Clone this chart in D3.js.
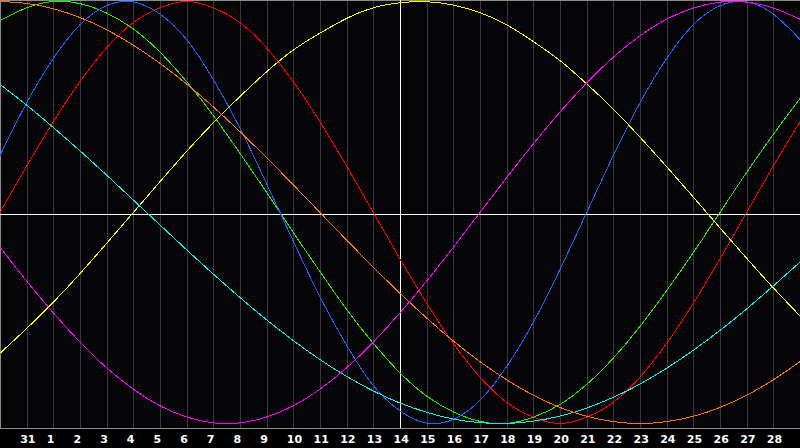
<!DOCTYPE html>
<html>
<head>
<meta charset="utf-8">
<script src="https://cdn.jsdelivr.net/npm/d3@7"></script>
<style>
  html, body { margin: 0; padding: 0; background: #000; }
  svg { display: block; }
</style>
</head>
<body>
<div id="chart"></div>
<script>
// day labels under the gridlines (day index 1..29)
const dayLabels = ["31", "1", "2", "3", "4", "5", "6", "7", "8", "9", "10", "11", "12", "13",
  "14", "15", "16", "17", "18", "19", "20", "21", "22", "23", "24", "25", "26", "27", "28"]
const todayIndex = 15

// curve values read at each day index 0..30
const red = [0, 0.22, 0.43, 0.62, 0.78, 0.90, 0.97, 1.00, 0.97, 0.90, 0.78, 0.62, 0.43, 0.22, 0,
  -0.22, -0.43, -0.62, -0.78, -0.90, -0.97, -1.00, -0.97, -0.90, -0.78, -0.62, -0.43, -0.22, 0, 0.22, 0.43]
const green = [0.91, 0.97, 1.00, 0.99, 0.945, 0.87, 0.76, 0.62, 0.46, 0.28, 0.095, -0.095, -0.28, -0.46,
  -0.62, -0.76, -0.87, -0.945, -0.99, -1.00, -0.97, -0.91, -0.815, -0.69, -0.54, -0.37, -0.19, 0, 0.19, 0.37, 0.54]
const blue = [0.27, 0.52, 0.73, 0.89, 0.98, 0.998, 0.94, 0.82, 0.63, 0.40, 0.136, -0.136, -0.40, -0.63,
  -0.82, -0.94, -0.998, -0.98, -0.89, -0.73, -0.52, -0.27, 0, 0.27, 0.52, 0.73, 0.89, 0.98, 0.998, 0.94, 0.82]
const yellow = [-0.667, -0.55, -0.425, -0.29, -0.146, 0, 0.146, 0.29, 0.425, 0.55, 0.667, 0.77, 0.85, 0.92,
  0.97, 0.994, 0.999, 0.983, 0.947, 0.89, 0.81, 0.72, 0.61, 0.49, 0.357, 0.217, 0.073, -0.073, -0.217, -0.357, -0.49]
const cyan = [0.607, 0.509, 0.403, 0.292, 0.177, 0.059, -0.059, -0.177, -0.292, -0.403, -0.509, -0.607, -0.697,
  -0.777, -0.846, -0.903, -0.947, -0.979, -0.996, -1.00, -0.989, -0.965, -0.927, -0.876, -0.813, -0.738,
  -0.653, -0.559, -0.457, -0.348, -0.235]
const magenta = [-0.165, -0.325, -0.476, -0.614, -0.736, -0.837, -0.916, -0.969, -0.997, -0.997, -0.969, -0.916,
  -0.837, -0.736, -0.614, -0.476, -0.325, -0.165, 0, 0.165, 0.325, 0.476, 0.614, 0.736, 0.837, 0.916, 0.969,
  0.997, 0.997, 0.969, 0.916]
const orange = [1.00, 0.991, 0.966, 0.924, 0.866, 0.793, 0.707, 0.609, 0.5, 0.383, 0.259, 0.131, 0, -0.131,
  -0.259, -0.383, -0.5, -0.609, -0.707, -0.793, -0.866, -0.924, -0.966, -0.991, -1.00, -0.991, -0.966,
  -0.924, -0.866, -0.793, -0.707]

const series = [
  { name: "red", values: red, color: "#ff0000" },
  { name: "green", values: green, color: "#22ee00" },
  { name: "blue", values: blue, color: "#1a66ff" },
  { name: "yellow", values: yellow, color: "#ffff00" },
  { name: "cyan", values: cyan, color: "#11eeee" },
  { name: "orange", values: orange, color: "#ff7700" },
  { name: "magenta", values: magenta, color: "#ff00ff" }
]

const W = 800, H = 448
const plotH = 428

const svg = d3.select("#chart").append("svg")
  .attr("width", W)
  .attr("height", H)

svg.append("rect")
  .attr("width", W).attr("height", H)
  .attr("fill", "#000")

svg.append("rect")
  .attr("width", W).attr("height", plotH)
  .attr("fill", "#050508")

var x = d3.scaleLinear().domain([0, 30]).range([0, W])
var y = d3.scaleLinear().domain([-1, 1]).range([423.5, 1.5])

var tickIdx = dayLabels.map((d, i) => i + 1)

// vertical gridlines
svg.append("g")
  .attr("transform", "translate(0," + plotH + ")")
  .call(d3.axisBottom(x).tickValues(tickIdx).tickSize(-plotH).tickFormat(""))
  .call(g => g.select(".domain").remove())
  .call(g => g.selectAll("line")
    .attr("stroke", "#3a3a3c")
    .attr("shape-rendering", "crispEdges"))

// frame: top, left, bottom
svg.append("path")
  .attr("d", "M0.5," + plotH + "V0.5H" + W + "M0," + (plotH + 0.5) + "H" + W)
  .attr("fill", "none")
  .attr("stroke", "#8c8c8c")
  .attr("shape-rendering", "crispEdges")

// today + zero line
svg.append("line")
  .attr("x1", 0).attr("x2", W)
  .attr("y1", 214.5).attr("y2", 214.5)
  .attr("stroke", "#fff")
  .attr("shape-rendering", "crispEdges")
svg.append("line")
  .attr("x1", x(todayIndex) + 0.5).attr("x2", x(todayIndex) + 0.5)
  .attr("y1", 0).attr("y2", plotH)
  .attr("stroke", "#fff")
  .attr("shape-rendering", "crispEdges")

var line = d3.line()
  .x((d, i) => x(i))
  .y(d => y(d))
  .curve(d3.curveNatural)

svg.append("g")
  .selectAll("path")
  .data(series)
  .enter()
  .append("path")
  .attr("d", d => line(d.values))
  .attr("fill", "none")
  .attr("stroke", d => d.color)
  .attr("stroke-width", 1)
  .attr("shape-rendering", "crispEdges")

// day labels
svg.append("g")
  .attr("transform", "translate(0," + plotH + ")")
  .call(d3.axisBottom(x).tickValues(tickIdx).tickSize(0).tickFormat((d, i) => dayLabels[i]))
  .call(g => g.select(".domain").remove())
  .call(g => g.selectAll("text")
    .attr("y", 15)
    .attr("dy", 0)
    .attr("x", -7)
    .attr("text-anchor", "start")
    .attr("fill", "#fff")
    .attr("font-family", "'DejaVu Sans', sans-serif")
    .attr("font-weight", "bold")
    .attr("font-size", 11))
</script>
</body>
</html>
